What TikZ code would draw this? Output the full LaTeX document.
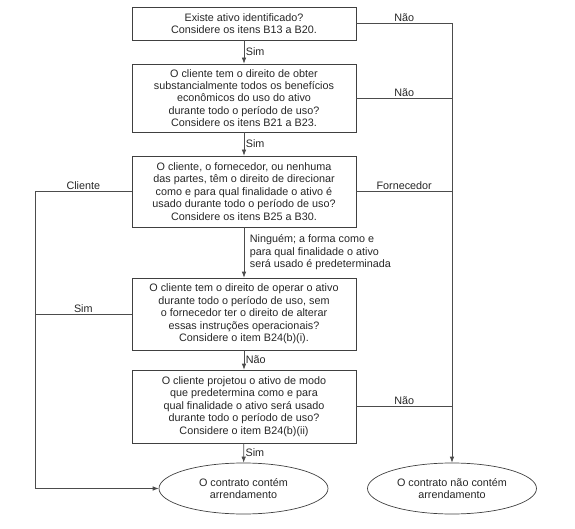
\documentclass[tikz,border=0pt]{standalone}
\usepackage{fontspec}
\setmainfont{Liberation Sans}
\usetikzlibrary{shapes.geometric,arrows.meta}
\begin{document}
\begin{tikzpicture}[x=1pt,y=-1pt,
  every node/.style={font=\fontsize{10.8}{12.4}\selectfont, text=black!85},
  box/.style={draw=black!75, line width=0.7pt, minimum width=224pt, align=center, inner sep=2pt},
  oval/.style={ellipse, draw=black!75, line width=0.7pt, minimum width=169pt, minimum height=51pt, align=center, inner sep=1pt},
  conn/.style={draw=black!70, line width=0.7pt},
  arr/.style={conn, -{Latex[length=6pt,width=4.5pt]}},
  lab/.style={inner sep=1.5pt}]
\useasboundingbox (0,0) rectangle (575,529);
\node[box, minimum height=33pt] (b1) at (244,23.5) {Existe ativo identificado?\\Considere os itens B13 a B20.};
\node[box, minimum height=68pt] (b2) at (244,98) {O cliente tem o direito de obter\\substancialmente todos os benefícios\\econômicos do uso do ativo\\durante todo o período de uso?\\Considere os itens B21 a B23.};
\node[box, minimum height=71pt] (b3) at (244,191.5) {O cliente, o fornecedor, ou nenhuma\\das partes, têm o direito de direcionar\\como e para qual finalidade o ativo é\\usado durante todo o período de uso?\\Considere os itens B25 a B30.};
\node[box, minimum height=72pt] (b4) at (244,314) {O cliente tem o direito de operar o ativo\\durante todo o período de uso, sem\\o fornecedor ter o direito de alterar\\essas instruções operacionais?\\Considere o item B24(b)(i).};
\node[box, minimum height=73pt] (b5) at (244,406.5) {O cliente projetou o ativo de modo\\que predetermina como e para\\qual finalidade o ativo será usado\\durante todo o período de uso?\\Considere o item B24(b)(ii)};
\node[oval] (e1) at (243.5,488.5) {O contrato contém\\arrendamento};
\node[oval] (e2) at (452,488.5) {O contrato não contém\\arrendamento};
\coordinate (rtop) at (452,23.5);
\coordinate (lcol) at (35,191.5);
% vertical main flow
\draw[arr] (b1) -- node[lab, right, pos=0.5] {Sim} (b2);
\draw[arr] (b2) -- node[lab, right, pos=0.5] {Sim} (b3);
\draw[arr] (b3) -- node[lab, right, align=left, pos=0.5, xshift=4pt] {Ninguém; a forma como e\\para qual finalidade o ativo\\será usado é predeterminada} (b4);
\draw[arr] (b4) -- node[lab, right, pos=0.5] {Não} (b5);
\draw[arr] (b5) -- node[lab, right, pos=0.5] {Sim} (e1);
% right column
\draw[conn] (b1.east) -- node[lab, above] {Não} (rtop);
\draw[arr] (rtop) -- (e2.north);
\draw[conn] (b2.east) -- node[lab, above] {Não} (b2.east -| rtop);
\draw[conn] (b3.east) -- node[lab, above] {Fornecedor} (b3.east -| rtop);
\draw[conn] (b5.east) -- node[lab, above] {Não} (b5.east -| rtop);
% left column
\draw[conn] (b3.west) -- node[lab, above] {Cliente} (lcol);
\draw[arr] (lcol) |- (e1.west);
\draw[conn] (b4.west) -- node[lab, above] {Sim} (b4.west -| lcol);
\end{tikzpicture}
\end{document}
